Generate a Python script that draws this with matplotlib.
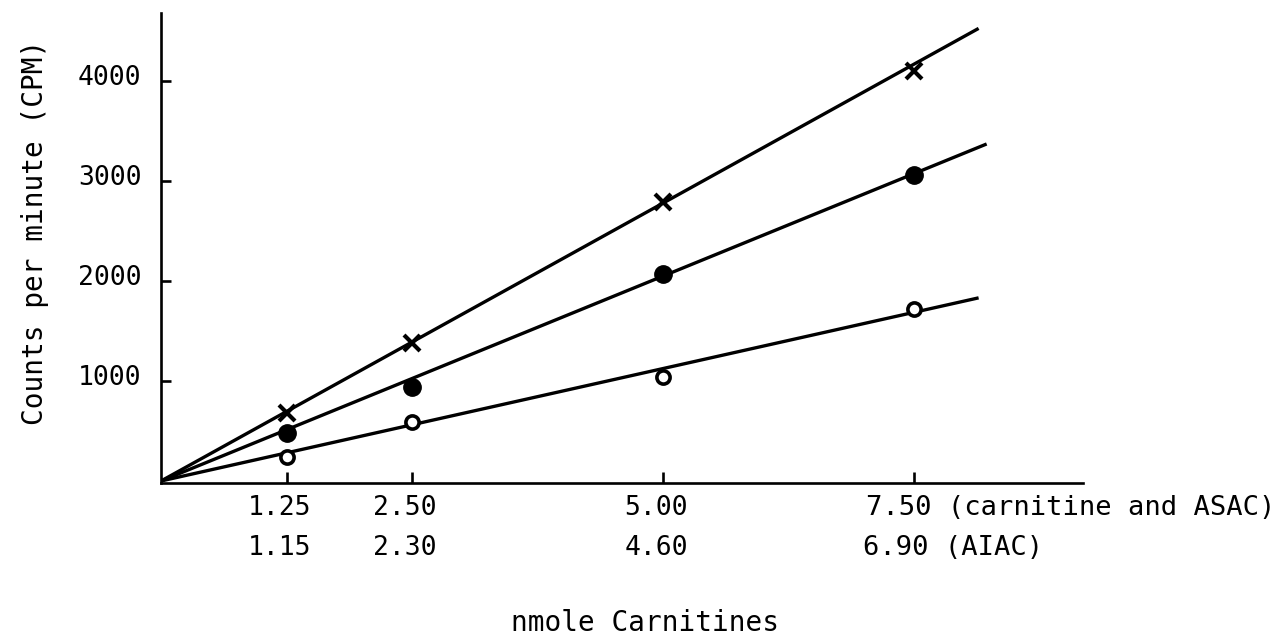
import numpy as np
import matplotlib.pyplot as plt
from matplotlib.transforms import ScaledTranslation

# nmole carnitine loaded (carnitine and ASAC scale)
nmole = np.array([1.25, 2.50, 5.00, 7.50])
# matching AIAC amounts printed under each tick
nmole_aiac = ['1.15', '2.30', '4.60', '6.90']

# counts per minute for the three compounds
cpm_cross = np.array([680, 1380, 2790, 4100])
cpm_filled = np.array([480, 940, 2070, 3060])
cpm_open = np.array([240, 590, 1040, 1720])

# fitted lines through the origin: slope (CPM per nmole) and how far each is drawn
fit_slope = [556, 410, 225]
fit_end = [8.14, 8.22, 8.14]

plt.rcParams['font.family'] = 'DejaVu Sans Mono'

fig = plt.figure(figsize=(12.86, 6.40), dpi=100)
ax = fig.add_axes([0.1252, 0.2453, 0.7170, 0.7344])

for slope, xend in zip(fit_slope, fit_end):
    xs = np.array([0, xend])
    ax.plot(xs, slope * xs, color='black', lw=2.4, solid_capstyle='butt', zorder=2)

ax.plot(nmole, cpm_cross, 'x', color='black', ms=11, mew=3, zorder=3)
ax.plot(nmole, cpm_filled, 'o', color='black', ms=12.5, zorder=3)
ax.plot(nmole, cpm_open, 'o', mfc='white', mec='black', ms=9.5, mew=2.6, zorder=3)

ax.set_xlim(0, 9.18)
ax.set_ylim(-20, 4680)

ax.spines['top'].set_visible(False)
ax.spines['right'].set_visible(False)
ax.spines['left'].set_linewidth(1.9)
ax.spines['bottom'].set_linewidth(1.9)

ax.set_yticks([1000, 2000, 3000, 4000])
ax.set_yticklabels(['1000', '2000', '3000', '4000'], fontsize=19)
ax.tick_params(axis='y', direction='in', length=7, width=1.9, pad=14)
for lab in ax.get_yticklabels():
    lab.set_transform(lab.get_transform() + ScaledTranslation(0, 0.06, fig.dpi_scale_trans))

ax.set_xticks(nmole)
ax.set_xticklabels([])
ax.tick_params(axis='x', direction='in', length=8, width=1.9)

# two rows of x labels: carnitine/ASAC on top, AIAC underneath
for i, v in enumerate(nmole):
    top = '%.2f' % v
    bottom = nmole_aiac[i]
    if i == len(nmole) - 1:
        ax.annotate(top + ' (carnitine and ASAC)', xy=(v, 0), xycoords=('data', 'axes fraction'),
                    xytext=(-35, -18), textcoords='offset points', ha='left', va='center', fontsize=19.5)
        ax.annotate(bottom + ' (AIAC)', xy=(v, 0), xycoords=('data', 'axes fraction'),
                    xytext=(-37, -47), textcoords='offset points', ha='left', va='center', fontsize=19.5)
    else:
        ax.annotate(top, xy=(v, 0), xycoords=('data', 'axes fraction'),
                    xytext=(-5, -18), textcoords='offset points', ha='center', va='center', fontsize=19)
        ax.annotate(bottom, xy=(v, 0), xycoords=('data', 'axes fraction'),
                    xytext=(-5, -47), textcoords='offset points', ha='center', va='center', fontsize=19)

fig.text(645 / 1286, 1 - 623 / 640, 'nmole Carnitines', ha='center', va='center', fontsize=20)
fig.text(35 / 1286, 1 - 232 / 640, 'Counts per minute (CPM)', rotation=90,
         ha='center', va='center', fontsize=20)

fig.savefig('out.png', dpi=100)
